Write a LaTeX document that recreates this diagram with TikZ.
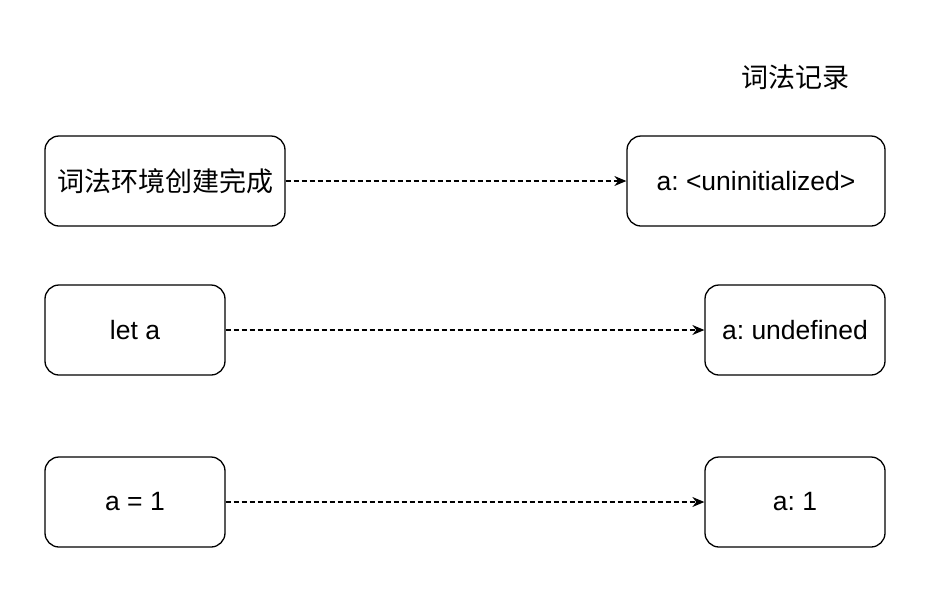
\documentclass[tikz,border=0pt]{standalone}
\usepackage{fontspec}
\setmainfont{Liberation Sans}
\newfontfamily\cjk{Noto Sans CJK SC}
\usetikzlibrary{arrows.meta}
\frenchspacing
\begin{document}
\begin{tikzpicture}[x=1pt,y=-1pt,
  box/.style={draw=black,line width=1.3pt,rounded corners=14pt,minimum height=90pt,inner sep=0pt,font=\fontsize{26.5}{30}\selectfont},
  cjkfont/.style={font=\fontsize{27}{30}\selectfont\cjk},
  conn/.style={line width=1.3pt,dash pattern=on 5pt off 3pt,-{Stealth[length=12pt,width=10pt]}}]
\useasboundingbox (0,0) rectangle (942,600);
\node[cjkfont] (title) at (795,77) {词法记录};
\node[box,minimum width=240pt,cjkfont] (b1) at (165,181) {词法环境创建完成};
\node[box,minimum width=180pt] (b2) at (135,330) {let a};
\node[box,minimum width=180pt] (b3) at (135,502) {a = 1};
\node[box,minimum width=258pt] (r1) at (756,181) {a: <uninitialized>};
\node[box,minimum width=180pt] (r2) at (795,330) {a: undefined};
\node[box,minimum width=180pt] (r3) at (795,502) {a: 1};
\draw[conn] (b1) -- (r1);
\draw[conn] (b2) -- (r2);
\draw[conn] (b3) -- (r3);
\end{tikzpicture}
\end{document}
